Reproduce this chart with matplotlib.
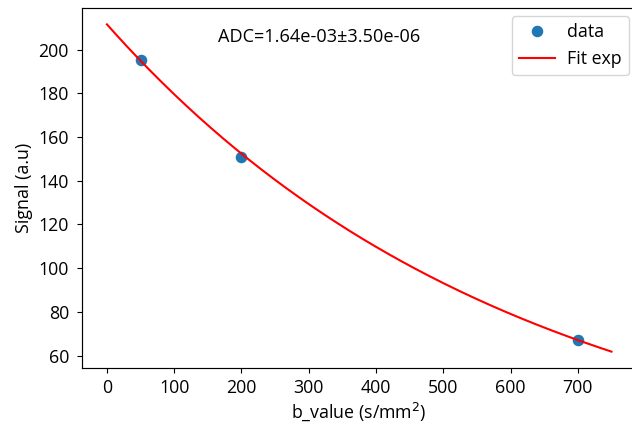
import numpy as np
import matplotlib
matplotlib.use("Agg")
import matplotlib.pyplot as plt

# Measured signal at each b-value
b_values = [50, 200, 700]
signal = [195.0, 151.0, 67.0]

# Mono-exponential fit parameters: S(b) = S0 * exp(-b * ADC)
S0 = 211.5
ADC = 1.64e-03
ADC_err = 3.50e-06
b_fit_range = [0, 750]

plt.rcParams["font.family"] = ["Open Sans", "DejaVu Sans"]
plt.rcParams["font.size"] = 12.8
plt.rcParams["xtick.major.size"] = 3.7
plt.rcParams["ytick.major.size"] = 3.7
plt.rcParams["xtick.major.pad"] = 4.0
plt.rcParams["ytick.major.pad"] = 5.5
plt.rcParams["axes.linewidth"] = 0.85

fig = plt.figure(figsize=(6.32, 4.26), dpi=100)
ax = fig.add_axes([81.7 / 632, 58 / 426, 555 / 632, 360 / 426])

b_fit = np.linspace(b_fit_range[0], b_fit_range[1], 200)
s_fit = S0 * np.exp(-b_fit * ADC)

ax.plot(b_values, signal, "o", color="#1f77b4", markersize=7.3, label="data")
ax.plot(b_fit, s_fit, "-", color="red", linewidth=1.5, label="Fit exp")

ax.text(165, 205.6, f"ADC={ADC:.2e}\u00b1{ADC_err:.2e}", ha="left", va="center",
        fontsize=13.1)

ax.set_xlabel("b_value (s/mm$^2$)", labelpad=3)
ax.set_ylabel("Signal (a.u)", labelpad=4)
ax.set_xticks(range(0, 800, 100))
ax.set_yticks(range(60, 201, 20))
ax.legend(loc="upper right", borderaxespad=0.45, handletextpad=0.7)

fig.savefig("out.png", dpi=100)
